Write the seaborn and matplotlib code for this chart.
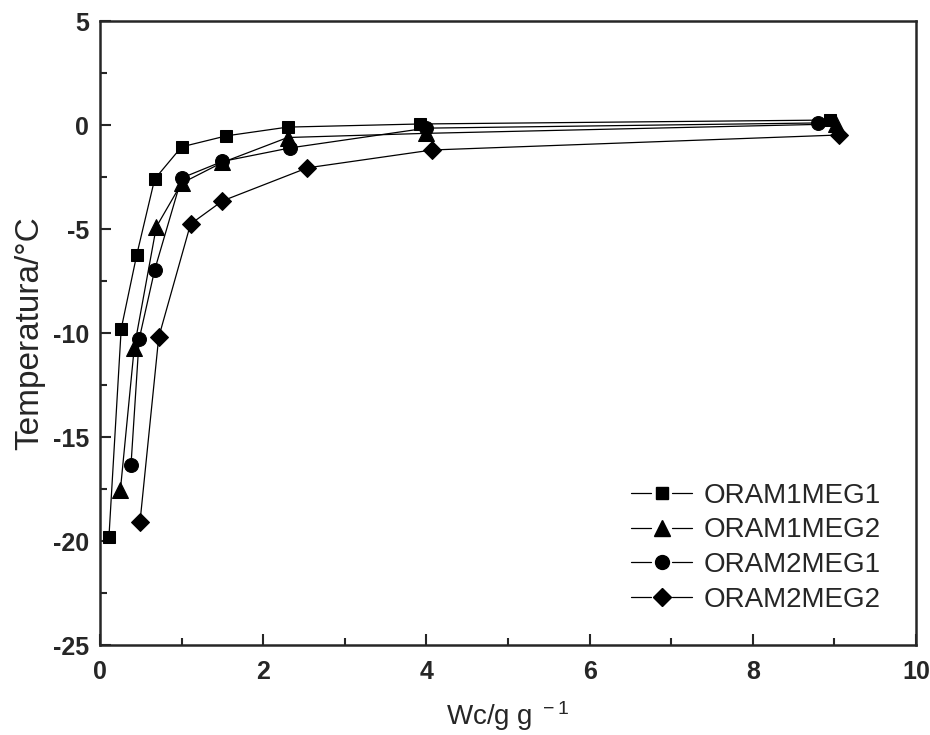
import numpy as np
import pandas as pd
import matplotlib
matplotlib.use("Agg")
import matplotlib.pyplot as plt
import seaborn as sns
from matplotlib.ticker import MultipleLocator
from matplotlib.legend_handler import HandlerLine2D
from matplotlib.lines import Line2D

# Data
series_names = ["ORAM1MEG1", "ORAM1MEG2", "ORAM2MEG1", "ORAM2MEG2"]
x_o1m1 = [0.11, 0.26, 0.45, 0.67, 1.00, 1.55, 2.30, 3.92, 8.95]
y_o1m1 = [-19.8, -9.8, -6.25, -2.6, -1.05, -0.52, -0.10, 0.05, 0.24]
x_o1m2 = [0.25, 0.42, 0.69, 1.00, 1.50, 2.30, 4.00, 9.02]
y_o1m2 = [-17.55, -10.7, -4.9, -2.8, -1.8, -0.6, -0.4, 0.05]
x_o2m1 = [0.38, 0.48, 0.67, 1.00, 1.50, 2.33, 4.00, 8.80]
y_o2m1 = [-16.35, -10.3, -6.97, -2.55, -1.75, -1.1, -0.15, 0.10]
x_o2m2 = [0.49, 0.72, 1.11, 1.50, 2.54, 4.07, 9.05]
y_o2m2 = [-19.1, -10.2, -4.76, -3.65, -2.06, -1.2, -0.48]

xs = [x_o1m1, x_o1m2, x_o2m1, x_o2m2]
ys = [y_o1m1, y_o1m2, y_o2m1, y_o2m2]
markers = ["s", "^", "o", "D"]
msizes = [9, 11, 10, 9]


class GapHandler(HandlerLine2D):
    """Legend handle: line - marker - line, with gaps around the marker."""
    def create_artists(self, legend, orig_handle, xdescent, ydescent,
                       width, height, fontsize, trans):
        y = height / 2.0 - ydescent
        xl = -xdescent
        xr = width - xdescent
        xc = (xl + xr) / 2.0
        gap = 0.17 * width
        lw = orig_handle.get_linewidth()
        col = orig_handle.get_color()
        l1 = Line2D([xl, xc - gap], [y, y], color=col, linewidth=lw)
        l2 = Line2D([xc + gap, xr], [y, y], color=col, linewidth=lw)
        mk = Line2D([xc], [y], linestyle="none",
                    marker=orig_handle.get_marker(),
                    markersize=orig_handle.get_markersize(),
                    markerfacecolor="black", markeredgecolor="black")
        for a in (l1, l2, mk):
            a.set_transform(trans)
        return [l1, l2, mk]


sns.set_style("ticks")
plt.rcParams['font.family'] = ['Liberation Sans', 'DejaVu Sans']
plt.rcParams['mathtext.default'] = 'regular'
plt.rcParams['axes.unicode_minus'] = False

fig = plt.figure(figsize=(9.3, 7.35), dpi=100)
ax = fig.add_axes([0.1075, 0.1224, 0.8775, 0.8490])

for name, xv, yv, m, ms in zip(series_names, xs, ys, markers, msizes):
    df = pd.DataFrame({"x": xv, "y": yv})
    sns.lineplot(data=df, x="x", y="y", ax=ax, color="black", linewidth=0.9,
                 marker=m, markersize=ms, markeredgecolor="black",
                 markerfacecolor="black", sort=False, label=name,
                 estimator=None)

ax.set_xlim(0, 10)
ax.set_ylim(-25, 5)
ax.xaxis.set_major_locator(MultipleLocator(2))
ax.xaxis.set_minor_locator(MultipleLocator(1))
ax.yaxis.set_major_locator(MultipleLocator(5))
ax.yaxis.set_minor_locator(MultipleLocator(2.5))
ax.tick_params(which="major", direction="in", length=8, width=1.5,
               labelsize=18)
ax.tick_params(axis="x", which="major", pad=11)
ax.tick_params(axis="y", which="major", pad=8)
ax.tick_params(which="minor", direction="in", length=5, width=1.5)
for lbl in ax.get_xticklabels() + ax.get_yticklabels():
    lbl.set_fontweight("semibold")
for sp in ax.spines.values():
    sp.set_visible(True)
    sp.set_linewidth(1.8)

ax.set_xlabel("Wc/g g$^{\\ -1}$", fontsize=20, labelpad=11)
ax.set_ylabel("Temperatura/°C", fontsize=24, labelpad=5)

handles, labels = ax.get_legend_handles_labels()
leg = ax.legend(handles, labels, loc="lower right", frameon=False,
                fontsize=20, handlelength=2.2, handletextpad=0.4,
                labelspacing=0.31, borderpad=0.4,
                bbox_to_anchor=(0.987, 0.012),
                handler_map={Line2D: GapHandler()})

fig.savefig("out.png", dpi=100)
